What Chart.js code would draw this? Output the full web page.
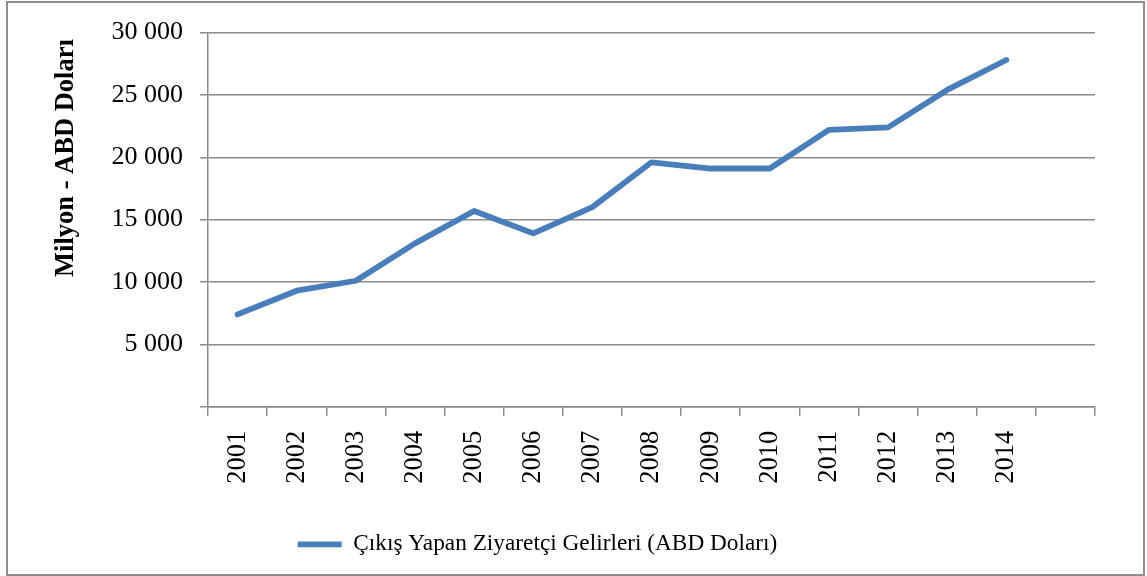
<!DOCTYPE html>
<html>
<head>
<meta charset="utf-8">
<script src="https://cdn.jsdelivr.net/npm/chart.js@4"></script>
<style>
  html, body { margin: 0; padding: 0; background: #fff; }
  #wrap { position: relative; width: 1147px; height: 576px; }
  #frame { position: absolute; left: 6px; top: 1px; width: 1135px; height: 571px; border: 2px solid #8e8e8e; pointer-events: none; }
  canvas { position: absolute; left: 0; top: 0; }
</style>
</head>
<body>
<div id="wrap">
  <canvas id="c" width="1147" height="576"></canvas>
  <div id="frame"></div>
</div>
<script>
const years = ["2001","2002","2003","2004","2005","2006","2007","2008","2009","2010","2011","2012","2013","2014",""];
const revenue = [7400, 9300, 10100, 13100, 15700, 13900, 16000, 19600, 19100, 19100, 22200, 22400, 25400, 27800, null];
const seriesName = "Çıkış Yapan Ziyaretçi Gelirleri (ABD Doları)";
const yTitle = "Milyon - ABD Doları";

const serif = "'Liberation Serif', 'Times New Roman', serif";
const gridColor = "#8a8a8a";

function fmt(v) {
  return String(v).replace(/\B(?=(\d{3})+(?!\d))/g, " ");
}

// shift the centred legend block left, as in the reference
const legendShift = {
  id: "legendShift",
  afterLayout(chart) {
    const lg = chart.legend;
    if (lg) { lg.left -= 30; lg.right -= 30; }
  }
};

new Chart(document.getElementById("c"), {
  type: "line",
  data: {
    labels: years,
    datasets: [{
      label: seriesName,
      data: revenue,
      borderColor: "#4a7ebb",
      backgroundColor: "#4a7ebb",
      borderWidth: 5.8,
      borderCapStyle: "round",
      borderJoinStyle: "round",
      pointRadius: 0,
      tension: 0,
      fill: false
    }]
  },
  plugins: [legendShift],
  options: {
    responsive: false,
    animation: false,
    devicePixelRatio: 1,
    layout: { padding: { left: 40, right: 52, top: 23, bottom: 10 } },
    plugins: {
      tooltip: { enabled: false },
      legend: {
        position: "bottom",
        labels: {
          usePointStyle: true,
          pointStyle: "line",
          pointStyleWidth: 44,
          color: "#000",
          padding: 10,
          font: { family: serif, size: 23.3 }
        }
      }
    },
    scales: {
      x: {
        offset: true,
        afterFit: s => { s.height = 116; },
        grid: {
          offset: true,
          drawOnChartArea: false,
          drawTicks: true,
          tickLength: 9,
          color: gridColor,
          lineWidth: 1.5
        },
        border: { display: true, color: gridColor, width: 1.5 },
        ticks: {
          autoSkip: false,
          minRotation: 90,
          maxRotation: 90,
          padding: 15,
          color: "#000",
          font: { family: serif, size: 26.5 }
        }
      },
      y: {
        min: 0,
        max: 30000,
        afterFit: s => { s.width = 168; },
        grid: {
          color: gridColor,
          lineWidth: 1.5,
          drawTicks: true,
          tickLength: 8
        },
        border: { display: true, color: gridColor, width: 1.5 },
        ticks: {
          stepSize: 5000,
          padding: 17,
          color: "#000",
          font: { family: serif, size: 26 },
          callback: v => (v === 0 ? "" : fmt(v))
        },
        title: {
          display: true,
          text: yTitle + " ",
          align: "end",
          color: "#000",
          padding: { top: 10, bottom: 0 },
          font: { family: serif, size: 26.5, weight: "bold" }
        }
      }
    }
  }
});
</script>
</body>
</html>
